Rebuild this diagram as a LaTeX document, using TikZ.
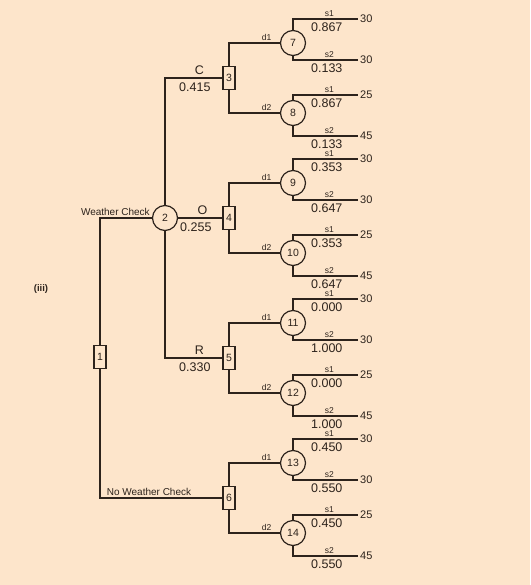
\documentclass[tikz,border=0pt]{standalone}
\usepackage{fontspec}
\setmainfont{Liberation Sans}
\usepackage{xcolor}
\usepackage{tikz}
\usetikzlibrary{positioning}
\definecolor{paper}{RGB}{253,229,203}
\definecolor{ink}{RGB}{45,35,28}
\begin{document}
\begin{tikzpicture}[
  x=1pt,y=-1pt,
  font=\fontsize{10.5}{12}\selectfont,
  dec/.style={draw=ink,fill=paper,line width=1.2pt,minimum width=12pt,minimum height=23pt,inner sep=0pt,text=ink},
  chance/.style={circle,draw=ink,fill=paper,line width=1.2pt,minimum size=25pt,inner sep=0pt,text=ink},
  br/.style={draw=ink,line width=1.3pt},
  lab/.style={font=\fontsize{8.5}{10}\selectfont,text=ink,inner sep=1pt},
  prob/.style={font=\fontsize{12.5}{14}\selectfont,text=ink,inner sep=1pt},
  pay/.style={font=\fontsize{11}{12}\selectfont,text=ink,anchor=west,inner sep=2pt}
]
\fill[paper] (0,0) rectangle (530,585);
\useasboundingbox (0,0) rectangle (530,585);
\node[font=\bfseries\fontsize{9.5}{11}\selectfont,text=ink] (tag) at (41,289) {(iii)};
% decision and chance nodes
\node[dec] (n1) at (100,357) {1};
\node[chance] (n2) at (165,218) {2};
\node[dec] (n3) at (229,78) {3};
\node[dec] (n4) at (229,218) {4};
\node[dec] (n5) at (229,358) {5};
\node[dec] (n6) at (229,498) {6};
\node[chance] (n7) at (293,43) {7};
\node[chance] (n8) at (293,113) {8};
\node[chance] (n9) at (293,183) {9};
\node[chance] (n10) at (293,253) {10};
\node[chance] (n11) at (293,323) {11};
\node[chance] (n12) at (293,393) {12};
\node[chance] (n13) at (293,463) {13};
\node[chance] (n14) at (293,533) {14};
% first decision
\draw[br] (n1) |- node[pos=1,above left,inner sep=1.5pt,text=ink,font=\fontsize{10}{12}\selectfont] {Weather Check} (n2);
\draw[br] (n1) |- node[pos=0.7,above=1pt,inner sep=1pt,text=ink,font=\fontsize{10}{12}\selectfont] {No Weather Check} (n6);
% weather forecast
\draw[br] (n2) |- node[prob,pos=0.8,above=2pt] {C} node[prob,pos=0.76,below=3pt] {0.415} (n3);
\draw[br] (n2) -- node[prob,pos=0.55,above=2pt] {O} node[prob,pos=0.4,below=3pt] {0.255} (n4);
\draw[br] (n2) |- node[prob,pos=0.8,above=2pt] {R} node[prob,pos=0.76,below=3pt] {0.330} (n5);
% second decision
\draw[br] (n3) |- node[lab,pos=0.87,above=0.5pt] {d1} (n7);
\draw[br] (n3) |- node[lab,pos=0.87,above=0.5pt] {d2} (n8);
\draw[br] (n4) |- node[lab,pos=0.87,above=0.5pt] {d1} (n9);
\draw[br] (n4) |- node[lab,pos=0.87,above=0.5pt] {d2} (n10);
\draw[br] (n5) |- node[lab,pos=0.87,above=0.5pt] {d1} (n11);
\draw[br] (n5) |- node[lab,pos=0.87,above=0.5pt] {d2} (n12);
\draw[br] (n6) |- node[lab,pos=0.87,above=0.5pt] {d1} (n13);
\draw[br] (n6) |- node[lab,pos=0.87,above=0.5pt] {d2} (n14);
% states and payoffs
\foreach \c/\ya/\yb/\pa/\pb/\qa/\qb in {
    7/19/60/30/30/0.867/0.133, 8/95/136/25/45/0.867/0.133,
    9/159/200/30/30/0.353/0.647, 10/235/276/25/45/0.353/0.647,
    11/299/340/30/30/0.000/1.000, 12/375/416/25/45/0.000/1.000,
    13/439/480/30/30/0.450/0.550, 14/515/556/25/45/0.450/0.550} {
  \node[pay] (pay\c-1) at (358,\ya) {\pa};
  \node[pay] (pay\c-2) at (358,\yb) {\pb};
  \draw[br] (n\c) |- node[lab,pos=0.78,above=1pt] {s1} node[prob,pos=0.76,below=2.5pt] {\qa} (pay\c-1.west);
  \draw[br] (n\c) |- node[lab,pos=0.78,above=1pt] {s2} node[prob,pos=0.76,below=2.5pt] {\qb} (pay\c-2.west);
}
\end{tikzpicture}
\end{document}
